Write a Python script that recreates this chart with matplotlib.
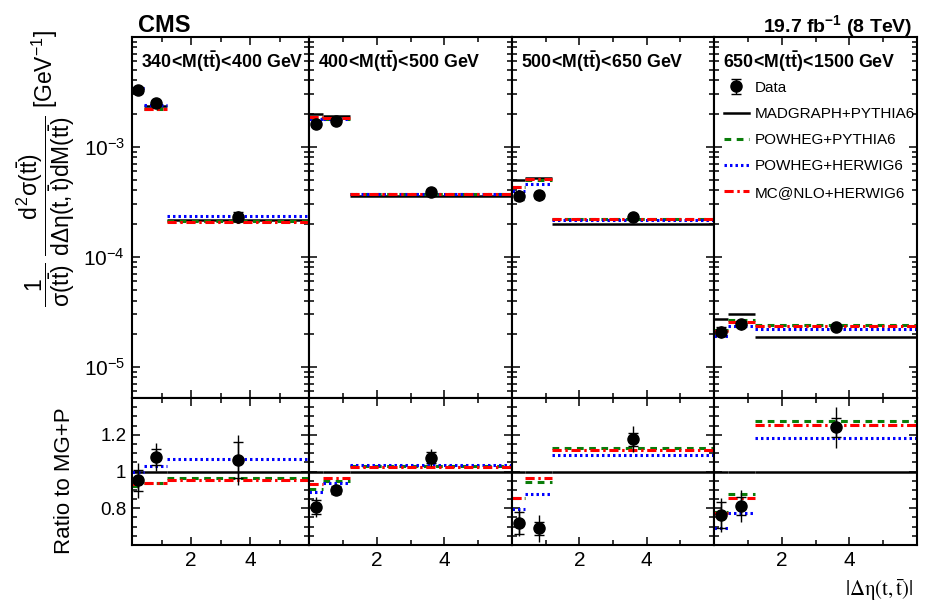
import numpy as np
import matplotlib
matplotlib.use('Agg')
import matplotlib.pyplot as plt
from matplotlib.ticker import FixedLocator, FixedFormatter, LogLocator, MultipleLocator, NullFormatter
from matplotlib.lines import Line2D

plt.rcParams['font.family'] = ['Liberation Sans', 'DejaVu Sans']
plt.rcParams['mathtext.fontset'] = 'custom'
plt.rcParams['mathtext.rm'] = 'Liberation Sans'
plt.rcParams['mathtext.it'] = 'Liberation Sans'
plt.rcParams['mathtext.sf'] = 'Liberation Sans'
plt.rcParams['mathtext.bf'] = 'Liberation Sans:bold'

# ── data ──────────────────────────────────────────────────────
bin_edges = [0.0, 0.4, 1.2, 6.0]
bin_centres = [0.2, 0.8, 3.6]
mass_ranges = [('340', '400'), ('400', '500'), ('500', '650'), ('650', '1500')]

# MADGRAPH+PYTHIA6 absolute prediction [GeV^-1], one row per mass bin
mg_pythia = [
    [3.45e-3, 2.33e-3, 2.18e-4],
    [2.00e-3, 1.90e-3, 3.60e-4],
    [4.98e-4, 5.25e-4, 1.97e-4],
    [2.74e-5, 3.01e-5, 1.87e-5],
]
# ratios to MG+P
ratio_powheg_pythia = [
    [0.920, 0.940, 0.967],
    [0.907, 0.950, 1.030],
    [0.858, 0.945, 1.127],
    [0.782, 0.880, 1.276],
]
ratio_powheg_herwig = [
    [1.000, 1.030, 1.070],
    [0.890, 0.935, 1.034],
    [0.795, 0.880, 1.089],
    [0.695, 0.776, 1.180],
]
ratio_mcatnlo = [
    [0.930, 0.940, 0.953],
    [0.930, 0.962, 1.022],
    [0.858, 0.963, 1.118],
    [0.773, 0.855, 1.253],
]
ratio_data = [
    [0.953, 1.080, 1.063],
    [0.807, 0.898, 1.076],
    [0.720, 0.690, 1.176],
    [0.763, 0.812, 1.240],
]
# relative uncertainties of the data (total, statistical)
err_total = [
    [0.100, 0.070, 0.130],
    [0.065, 0.030, 0.043],
    [0.100, 0.110, 0.060],
    [0.120, 0.110, 0.090],
]
err_stat = [
    [0.060, 0.040, 0.090],
    [0.050, 0.025, 0.030],
    [0.080, 0.053, 0.030],
    [0.090, 0.060, 0.040],
]

models = [
    ('MADGRAPH+PYTHIA6', None, 'black', '-', 1.8),
    ('POWHEG+PYTHIA6', ratio_powheg_pythia, '#0a7d0a', (0, (2.2, 1.8)), 2.2),
    ('POWHEG+HERWIG6', ratio_powheg_herwig, '#0000ff', (0, (0.8, 1.0)), 2.2),
    ('MC@NLO+HERWIG6', ratio_mcatnlo, '#ff0000', (0, (3.0, 1.2, 0.8, 1.2)), 2.2),
]

W, H = 926, 605
fig = plt.figure(figsize=(W / 100, H / 100), dpi=100)

x_edges_px = [132, 309, 512, 714, 917]
y_top, y_mid, y_bot = 36.7, 398.0, 545.0


def px_rect(x0, x1, y0, y1):
    return [x0 / W, 1 - y1 / H, (x1 - x0) / W, (y1 - y0) / H]


def style_axes(ax):
    for sp in ax.spines.values():
        sp.set_linewidth(1.5)
    ax.tick_params(which='both', direction='in', top=True, right=True, width=1.1)
    ax.tick_params(which='major', length=6)
    ax.tick_params(which='minor', length=3.5)
    ax.set_xlim(0, 6)
    ax.xaxis.set_major_locator(FixedLocator([2, 4]))
    ax.xaxis.set_minor_locator(FixedLocator([1, 3, 5]))


legend_handles = []

for ip in range(4):
    x0, x1 = x_edges_px[ip], x_edges_px[ip + 1]
    ax = fig.add_axes(px_rect(x0, x1, y_top, y_mid))
    axr = fig.add_axes(px_rect(x0, x1, y_mid, y_bot))
    mg = np.array(mg_pythia[ip])

    for name, ratio, col, ls, lw in models:
        r = np.ones(3) if ratio is None else np.array(ratio[ip])
        ax.hlines(mg * r, bin_edges[:-1], bin_edges[1:], colors=col,
                  linestyles=ls, linewidth=lw)
        axr.hlines(r, bin_edges[:-1], bin_edges[1:], colors=col,
                   linestyles=ls, linewidth=lw)
        if ip == 0:
            legend_handles.append(Line2D([], [], color=col, ls=ls, lw=lw, label=name))

    rd = np.array(ratio_data[ip])
    et = np.array(err_total[ip])
    es = np.array(err_stat[ip])
    yd = mg * rd
    for a, y in [(ax, yd), (axr, rd)]:
        a.errorbar(bin_centres, y, yerr=y * et, fmt='none', ecolor='black',
                   elinewidth=1.0, capsize=0)
        h = a.errorbar(bin_centres, y, yerr=y * es, fmt='o', color='black',
                       markersize=8, elinewidth=1.0, capsize=3.5,
                       capthick=1.0, zorder=5)
    if ip == 0:
        data_handle = h

    # top panel
    style_axes(ax)
    ax.set_yscale('log')
    ax.set_ylim(5.2e-6, 1e-2)
    ax.yaxis.set_major_locator(FixedLocator([1e-5, 1e-4, 1e-3, 1e-2]))
    ax.yaxis.set_minor_locator(LogLocator(base=10, subs=np.arange(2, 10), numticks=20))
    ax.yaxis.set_minor_formatter(NullFormatter())
    ax.set_xticklabels([])
    if ip == 0:
        ax.yaxis.set_major_formatter(FixedFormatter(
            [r'$10^{-5}$', r'$10^{-4}$', r'$10^{-3}$', '']))
        ax.tick_params(axis='y', labelsize=15, pad=5)
    else:
        ax.set_yticklabels([])

    lo_m, hi_m = mass_ranges[ip]
    ax.text(9 / (x1 - x0), 1 - (61.7 - y_top) / (y_mid - y_top),
            r'$\mathbf{%s\!<\!M(t\bar{t})\!<\!%s\ GeV}$' % (lo_m, hi_m),
            transform=ax.transAxes, ha='left', va='center', fontsize=12.8)

    # ratio panel
    style_axes(axr)
    axr.set_ylim(0.6, 1.4)
    axr.yaxis.set_major_locator(FixedLocator([0.8, 1.0, 1.2]))
    axr.yaxis.set_minor_locator(MultipleLocator(0.05))
    axr.xaxis.set_major_formatter(FixedFormatter(['2', '4']))
    axr.tick_params(axis='x', labelsize=15, pad=4)
    if ip == 0:
        axr.yaxis.set_major_formatter(FixedFormatter(['0.8', '1', '1.2']))
        axr.tick_params(axis='y', labelsize=13.5, pad=4)
    else:
        axr.set_yticklabels([])

    if ip == 3:
        ax.legend([data_handle] + legend_handles,
                  ['Data'] + [m[0] for m in models],
                  loc='upper left', bbox_to_anchor=(0.02, 0.895),
                  frameon=False, fontsize=11, handlelength=1.6,
                  handletextpad=0.4, labelspacing=0.8, borderaxespad=0)

fig.text(138 / W, 1 - 32 / H, 'CMS', fontsize=17, fontweight='bold',
         ha='left', va='baseline')
fig.text(912 / W, 1 - 32 / H, r'$\mathbf{19.7\ fb^{-1}\ (8\ TeV)}$',
         fontsize=14, ha='right', va='baseline')

fig.text(46 / W, 1 - 168 / H,
         r'$\dfrac{1}{\sigma(t\bar{t})}\ \dfrac{d^{2}\sigma(t\bar{t})}'
         r'{d\Delta\eta(t,\bar{t})dM(t\bar{t})}$ [GeV$^{-1}$]',
         rotation=90, ha='center', va='center', fontsize=16.5)
fig.text(64 / W, 1 - 481 / H, 'Ratio to MG+P', rotation=90,
         ha='center', va='center', fontsize=16)
fig.text(913 / W, 1 - 590 / H, r'$|\Delta\mathrm{\eta}(\mathrm{t},\bar{\mathrm{t}})|$',
         ha='right', va='center', fontsize=15, math_fontfamily='stix')

fig.savefig('out.png', dpi=100)
